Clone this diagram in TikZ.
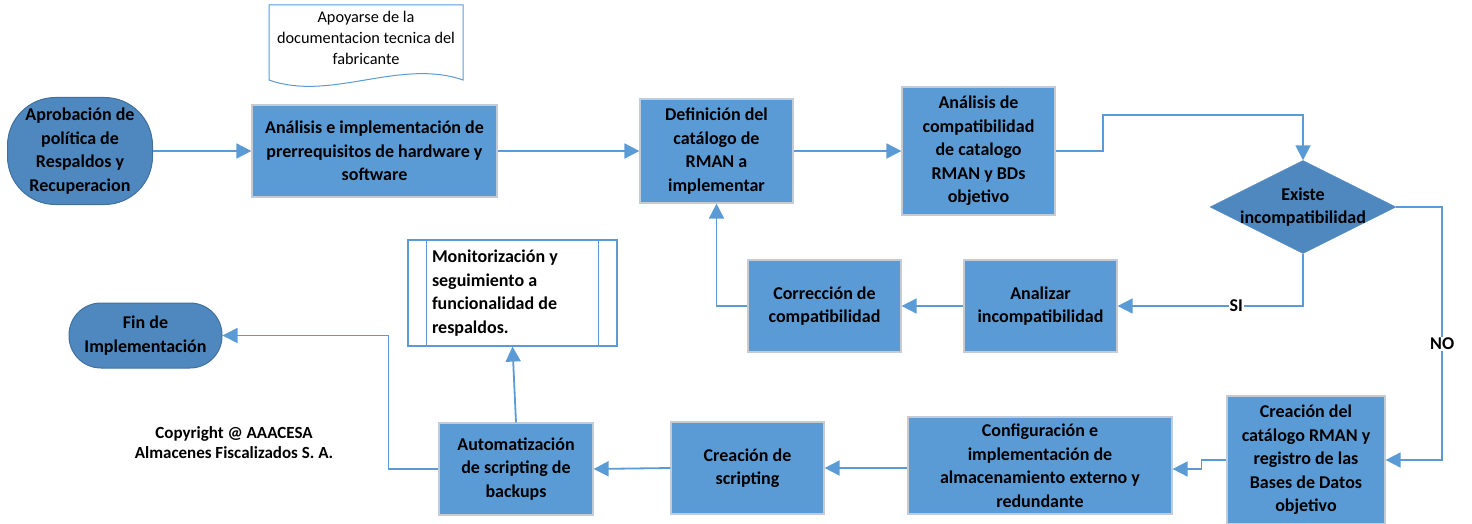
\documentclass[tikz,border=0pt]{standalone}
\usepackage{fontspec}
\setmainfont{Carlito}
\usetikzlibrary{arrows.meta,shapes.geometric}

\definecolor{boxblue}{HTML}{5B9BD5}
\definecolor{darkblue}{HTML}{4F87BF}
\definecolor{termline}{HTML}{41719C}
\definecolor{boxline}{HTML}{C3CCD6}
\definecolor{lineblue}{HTML}{5B9BD5}

\newcommand{\boxfont}{\fontsize{18}{23.5}\selectfont\bfseries}
\newcommand{\notefont}{\fontsize{16.3}{21}\selectfont}

\tikzset{
  proc/.style={draw=boxline,line width=1.2pt,fill=boxblue,align=center,inner sep=2pt,font=\boxfont},
  term/.style={draw=termline,line width=1pt,fill=darkblue,align=center,font=\boxfont},
  decision/.style={diamond,fill=darkblue,draw=darkblue,inner sep=0pt},
  flow/.style={draw=lineblue,line width=1.8pt,-{Triangle[length=15pt,width=15pt]}},
  lbl/.style={fill=white,inner sep=1pt,font=\boxfont},
}

\begin{document}
\begin{tikzpicture}[x=1pt,y=-1pt]
\useasboundingbox (0,0) rectangle (1472,524);

% top row
\node[term,rounded corners=48pt,minimum width=145pt,minimum height=107pt] (start) at (80,151) {Aprobación de\\política de\\Respaldos y\\Recuperacion};
\node[proc,minimum width=245pt,minimum height=92pt] (prereq) at (374.5,151) {Análisis e implementación de\\prerrequisitos de hardware y\\software};
\node[proc,minimum width=153pt,minimum height=104pt] (catdef) at (716.5,151) {Definición del\\catálogo de\\RMAN a\\implementar};
\node[proc,minimum width=153pt,minimum height=128pt] (compat) at (978.5,151) {Análisis de\\compatibilidad\\de catalogo\\RMAN y BDs\\objetivo};
\node[decision,minimum width=186pt,minimum height=93pt] (exists) at (1303,207) {};
\node[font=\boxfont,align=center] (existstxt) at (exists) {Existe\\incompatibilidad};

% note
\draw[lineblue,line width=1pt,fill=white] (269,5) -- (463,5) -- (463,80)
  .. controls (400,58) and (330,102) .. (269,80) -- cycle;
\node[font=\notefont,align=center] (doc) at (366,38) {Apoyarse de la\\documentacion tecnica del\\fabricante};

% middle row
\node[proc,minimum width=153pt,minimum height=92pt] (analyze) at (1040.5,306) {Analizar\\incompatibilidad};
\node[proc,minimum width=153pt,minimum height=92pt] (fix) at (824.5,306) {Corrección de\\compatibilidad};
\node[draw=lineblue,line width=1.2pt,fill=white,minimum width=209pt,minimum height=106pt,
  text width=161pt,align=flush left,inner xsep=5pt,font=\boxfont] (monitor) at (512.5,293) {Monitorización y\\seguimiento a\\funcionalidad de\\respaldos.};
\draw[lineblue,line width=1.2pt] ([xshift=19pt]monitor.north west) -- ([xshift=19pt]monitor.south west);
\draw[lineblue,line width=1.2pt] ([xshift=-19pt]monitor.north east) -- ([xshift=-19pt]monitor.south east);
\node[term,rounded corners=32pt,minimum width=153pt,minimum height=65pt] (finish) at (145.5,335.5) {Fin de\\Implementación};

% bottom row
\node[proc,minimum width=158pt,minimum height=128pt] (create) at (1306,460) {Creación del\\catálogo RMAN y\\registro de las\\Bases de Datos\\objetivo};
\node[proc,minimum width=264pt,minimum height=97pt] (storage) at (1040,465.5) {Configuración e\\implementación de\\almacenamiento externo y\\redundante};
\node[proc,minimum width=153pt,minimum height=92pt] (script) at (747.5,468) {Creación de\\scripting};
\node[proc,minimum width=154pt,minimum height=92pt] (auto) at (516,469) {Automatización\\de scripting de\\backups};

\node[font=\fontsize{17}{20}\selectfont\bfseries,align=center] (copy) at (234,443) {Copyright @ AAACESA\\Almacenes Fiscalizados S. A.};

% connectors
\draw[flow] (start) -- (prereq);
\draw[flow] (prereq) -- (catdef);
\draw[flow] (catdef) -- (compat);
\draw[flow] (compat.east) -- ++(47,0) |- ([yshift=45pt]exists.north) -- (exists.north);
\draw[flow] (exists.south) |- node[lbl,pos=0.68]{SI} (analyze.east);
\draw[flow] (analyze) -- (fix);
\draw[flow] (fix.west) -| (catdef.south);
\draw[flow] (exists.east) -- ++(46,0) |- node[lbl,pos=0.27]{NO} (create.east);
\draw[flow] (create.west) -- ++(-25,0) |- ([yshift=-3.5pt]storage.east);
\draw[flow] (script.east -| storage.west) -- (script.east);
\draw[flow] (script.west) -- (auto.east);
\draw[flow] (auto.north) -- (monitor.south);
\draw[flow] (auto.west) -- ++(-50,0) |- (finish.east);
\end{tikzpicture}
\end{document}
